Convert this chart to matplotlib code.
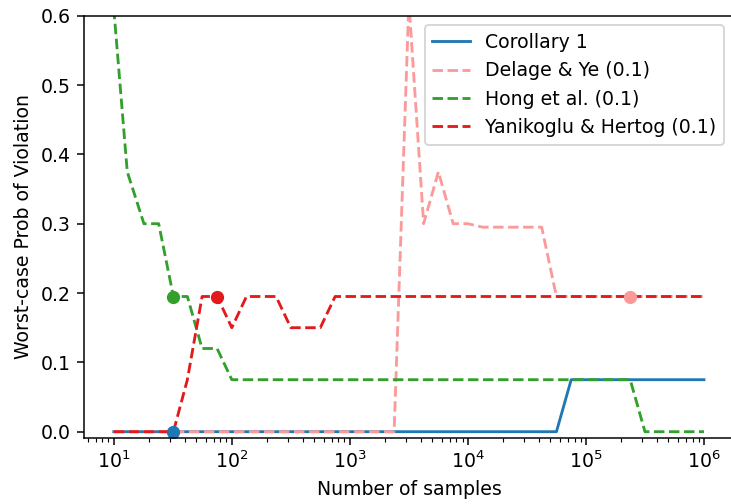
import matplotlib
matplotlib.use("Agg")
import matplotlib.pyplot as plt

n_samples = [10, 13, 18, 24, 32, 42, 56, 75, 100, 133, 178, 237, 316, 422, 562, 750,
             1000, 1334, 1778, 2371, 3162, 4217, 5623, 7499, 10000, 13335, 17783, 23714,
             31623, 42170, 56234, 74989, 100000, 133352, 177828, 237137, 316228, 421697,
             562341, 749894, 1000000]

corollary = [0.0] * 31 + [0.075] * 10
delage = [0.0] * 20 + [0.62, 0.30, 0.375, 0.30, 0.30] + [0.295] * 5 + [0.195] * 11
hong = [0.61, 0.375, 0.30, 0.30, 0.195, 0.195, 0.12, 0.12] + [0.075] * 28 + [0.0] * 5
yanikoglu = [0.0] * 5 + [0.075, 0.195, 0.195, 0.15, 0.195, 0.195, 0.195, 0.15, 0.15, 0.15] + [0.195] * 26

labels = ["Corollary 1", "Delage & Ye (0.1)", "Hong et al. (0.1)", "Yanikoglu & Hertog (0.1)"]
colors = ["#1f78b4", "#fb9a99", "#33a02c", "#e31a1c"]
styles = ["-", "--", "--", "--"]
marker_idx = [4, 35, 4, 7]

series = [corollary, delage, hong, yanikoglu]

DPI = 136
fig = plt.figure(figsize=(731 / DPI, 504 / DPI), dpi=DPI)
ax = fig.add_axes([0.1153, 0.1315, 0.8881, 0.8373])

for s, lab, c, ls in zip(series, labels, colors, styles):
    ax.plot(n_samples, s, ls, color=c, label=lab, lw=1.5)
for s, c, i in zip(series, colors, marker_idx):
    ax.plot([n_samples[i]], [s[i]], "o", color=c, markersize=6)

ax.set_xscale("log")
ax.set_ylim(-0.0087, 0.6)
ax.set_xlabel("Number of samples")
ax.set_ylabel("Worst-case Prob of Violation")
ax.legend(loc="upper right")

fig.savefig("out.png", dpi=DPI)
